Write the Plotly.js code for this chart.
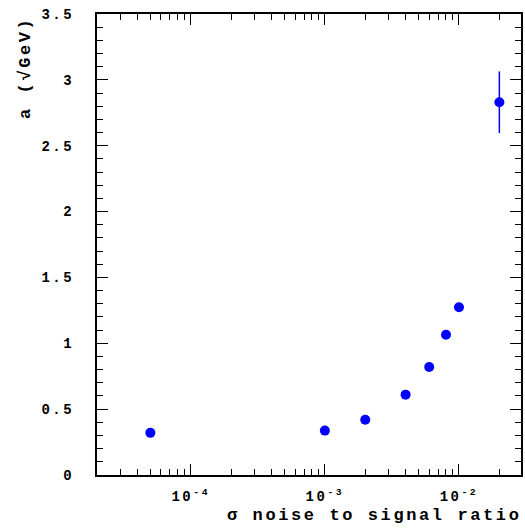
<!DOCTYPE html>
<html>
<head>
<meta charset="utf-8">
<script src="https://cdn.plot.ly/plotly-3.0.1.min.js"></script>
<style>
html, body { margin: 0; padding: 0; background: #fff; }
#chart { width: 525px; height: 529px; }
.xtick text, .ytick text { letter-spacing: 2.5px; }
.annotation-text { letter-spacing: 2.6px; }
</style>
</head>
<body>
<div id="chart"></div>
<script>
const noiseRatio = [5e-5, 1e-3, 2e-3, 4e-3, 6e-3, 8e-3, 1e-2, 2e-2];
const aValues = [0.32, 0.337, 0.42, 0.61, 0.82, 1.065, 1.273, 2.83];
const aErrors = [0, 0, 0, 0, 0, 0, 0, 0.234];
const xTickVals = [1e-4, 1e-3, 1e-2];
const xTickText = ["10<sup>-4</sup>", "10<sup>-3</sup>", "10<sup>-2</sup>"];
const xMinorVals = [3e-5,4e-5,5e-5,6e-5,7e-5,8e-5,9e-5,
  2e-4,3e-4,4e-4,5e-4,6e-4,7e-4,8e-4,9e-4,
  2e-3,3e-3,4e-3,5e-3,6e-3,7e-3,8e-3,9e-3,
  2e-2];
const xTitle = "σ noise to signal ratio";
const yTitle = "a (√GeV)";

const font = "Liberation Mono, Courier New, monospace";

const trace = {
  x: noiseRatio,
  y: aValues,
  type: "scatter",
  mode: "markers",
  marker: { color: "#0000ff", size: 10 },
  error_y: { type: "data", array: aErrors, visible: true, color: "#0000ff", thickness: 1.5, width: 0 },
  showlegend: false,
  hoverinfo: "x+y"
};

const layout = {
  width: 525,
  height: 529,
  margin: { l: 97, r: 4, t: 14, b: 54 },
  paper_bgcolor: "#fff",
  plot_bgcolor: "#fff",
  font: { family: font, size: 14, color: "#000", weight: "bold" },
  xaxis: {
    type: "log",
    range: [Math.log10(2.0e-5), Math.log10(2.9e-2)],
    tickmode: "array",
    tickvals: xTickVals,
    ticktext: xTickText,
    ticks: "inside",
    ticklen: 11,
    tickwidth: 1,
    tickcolor: "#000",
    showline: true,
    linecolor: "#000",
    linewidth: 2,
    mirror: "ticks",
    showgrid: false,
    zeroline: false,
    ticklabelstandoff: 7,
    tickfont: { family: font, size: 14, color: "#000", weight: "bold" },
    minor: { tickmode: "array", tickvals: xMinorVals, ticks: "inside", ticklen: 6, tickwidth: 1, tickcolor: "#000", showgrid: false }
  },
  yaxis: {
    range: [0, 3.5],
    tickmode: "linear",
    tick0: 0,
    dtick: 0.5,
    ticks: "inside",
    ticklen: 11,
    tickwidth: 1,
    tickcolor: "#000",
    showline: true,
    linecolor: "#000",
    linewidth: 2,
    mirror: "ticks",
    showgrid: false,
    zeroline: false,
    ticklabelstandoff: 18,
    tickfont: { family: font, size: 14, color: "#000", weight: "bold" },
    minor: { dtick: 0.1, ticks: "inside", ticklen: 6, tickwidth: 1, tickcolor: "#000", showgrid: false }
  },
  annotations: [
    {
      text: xTitle, xref: "paper", yref: "paper", x: 1, y: 0,
      xanchor: "right", yanchor: "middle", xshift: 2, yshift: -40,
      showarrow: false, font: { family: font, size: 17, color: "#000", weight: "bold" }
    },
    {
      text: yTitle, xref: "paper", yref: "paper", x: 0, y: 1,
      xanchor: "center", yanchor: "top", xshift: -72, yshift: -1, textangle: -90,
      showarrow: false, font: { family: font, size: 17, color: "#000", weight: "bold" }
    }
  ]
};

Plotly.newPlot("chart", [trace], layout, { displayModeBar: false, staticPlot: true });
</script>
</body>
</html>
